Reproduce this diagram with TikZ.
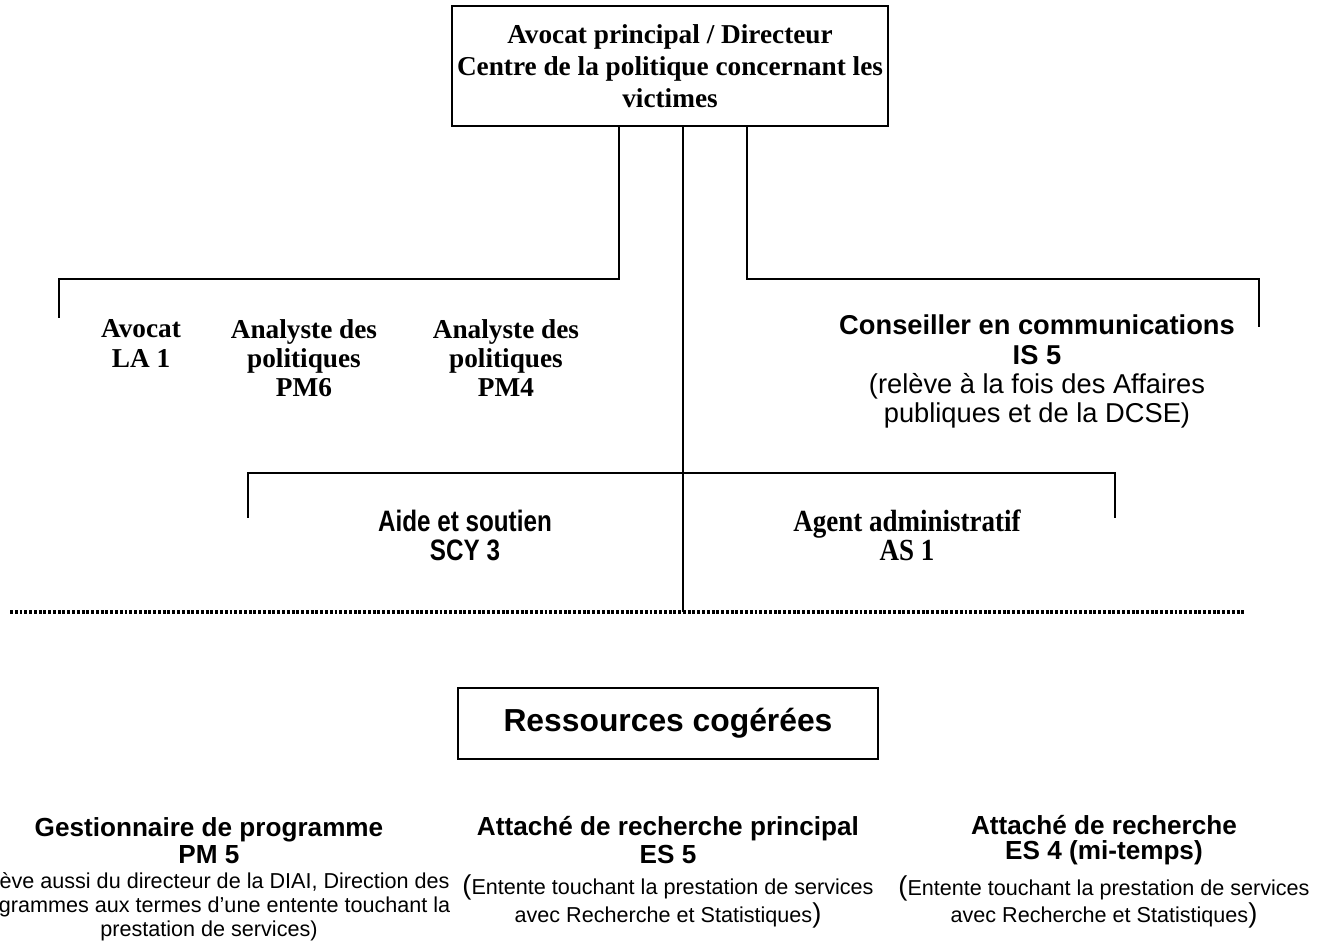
\documentclass[tikz,border=0pt]{standalone}
\usepackage{fontspec}
\setmainfont{Liberation Serif}
\setsansfont{Liberation Sans}
\newfontfamily\narrowsans[FakeStretch=0.82]{Liberation Sans}
\newfontfamily\narrowserif[FakeStretch=0.88]{Liberation Serif}
\newcommand{\smalltxt}[1]{{\mdseries\fontsize{9.5}{10.4}\selectfont #1}}

\begin{document}
\begin{tikzpicture}[x=0.44pt, y=-0.44pt,
  orgline/.style = {line width=0.9pt},
  post/.style = {align=center, inner sep=0pt},
  box/.style = {draw, line width=0.9pt, inner sep=0pt, align=center}]
  \useasboundingbox (0,0) rectangle (1342,949);

  % director
  \node[box, minimum width=191.8pt, minimum height=52.8pt,
        font=\rmfamily\bfseries\fontsize{12}{14}\selectfont] (boss) at (670,66)
    {Avocat principal / Directeur\\Centre de la politique concernant les\\victimes};

  % first level
  \foreach \name/\x/\y/\txt in {avocat/141/343.5/{Avocat\\LA 1},
      analysteA/304/358/{Analyste des\\politiques\\PM6},
      analysteB/506/358/{Analyste des\\politiques\\PM4}}
    \node[post, font=\rmfamily\bfseries\fontsize{12}{12.8}\selectfont] (\name) at (\x,\y) {\txt};

  \node[post, font=\sffamily\fontsize{12}{12.8}\selectfont] (conseiller) at (1037,371.5)
    {\textbf{Conseiller en communications}\\\textbf{IS 5}\\(relève à la fois des Affaires\\publiques et de la DCSE)};

  % second level
  \node[post, font=\narrowsans\bfseries\fontsize{13}{12.8}\selectfont] (aide) at (465,535.5)
    {Aide et soutien\\SCY 3};
  \node[post, font=\narrowserif\bfseries\fontsize{13.5}{12.8}\selectfont] (agent) at (907,535.5)
    {Agent administratif\\AS 1};

  % connectors
  \coordinate (ltap) at (619,279);
  \coordinate (rtap) at (747,279);
  \coordinate (lend) at (59,318);
  \coordinate (rend) at (1259,327);
  \coordinate (lend2) at (248,518);
  \coordinate (rend2) at (1115,518);
  \coordinate (midtap) at (683,473);
  \coordinate (midend) at (683,612);
  \coordinate (dotl) at (10,612);
  \coordinate (dotr) at (1245,612);

  \draw[orgline] (boss.south -| ltap) -- (ltap) -| (lend);
  \draw[orgline] (boss.south -| rtap) -- (rtap) -| (rend);
  \draw[orgline] (boss.south -| midend) -- (midend);
  \draw[orgline] (lend2) |- (midtap) -| (rend2);
  \draw[line width=1.4pt, dash pattern=on 1.3pt off 0.8pt] (dotl) -- (dotr);

  % shared resources
  \node[box, minimum width=184.8pt, minimum height=31.2pt,
        font=\sffamily\bfseries\fontsize{14}{16}\selectfont] (ressources) at (668,723.5)
    {Ressources cogérées};

  \node[post, font=\sffamily\bfseries\fontsize{11.5}{10.4}\selectfont] (gestionnaire) at (209,879)
    {Gestionnaire de programme\\[1.6pt]PM 5\\[0.6pt]
     \smalltxt{(relève aussi du directeur de la DIAI, Direction des}\\
     \smalltxt{programmes aux termes d’une entente touchant la}\\
     \smalltxt{prestation de services)}};
  \node[post, font=\sffamily\bfseries\fontsize{11.5}{10}\selectfont] (attacheP) at (668,872)
    {Attaché de recherche principal\\[1pt]ES 5\\[3.5pt]
     \smalltxt{{\large(}Entente touchant la prestation de services}\\
     \smalltxt{avec Recherche et Statistiques{\large)}}};
  \node[post, font=\sffamily\bfseries\fontsize{11.5}{10}\selectfont] (attache) at (1104,872)
    {Attaché de recherche\\[1pt]ES 4 (mi-temps)\\[3.5pt]
     \smalltxt{{\large(}Entente touchant la prestation de services}\\
     \smalltxt{avec Recherche et Statistiques{\large)}}};
\end{tikzpicture}
\end{document}
